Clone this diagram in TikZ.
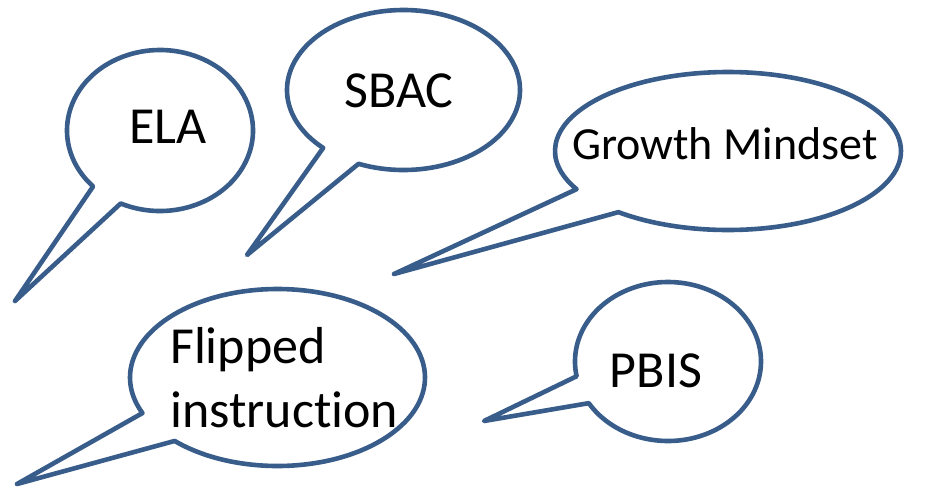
\documentclass[tikz,border=0pt]{standalone}
\usepackage{fontspec}
\setmainfont[Ligatures=NoCommon]{Carlito}
\definecolor{outline}{HTML}{385D8A}
\tikzset{
  bubble/.style={draw=outline, line width=4.6pt, fill=white, line join=round},
  label/.style={inner sep=0pt, anchor=base, font=\fontsize{52}{62}\selectfont, text=black},
}
\begin{document}
\begin{tikzpicture}[x=1pt,y=-1pt]
\useasboundingbox (0,0) rectangle (930,491);
% ELA
\coordinate (cELA) at (160,130.5);
\coordinate (tELA) at (15,301);
\draw[bubble] (cELA) ++(245:93pt and 80.5pt)
  arc[start angle=245, end angle=584, x radius=93pt, y radius=80.5pt] -- (tELA) -- cycle;
\node[label] (ela) at (168,143) {ELA};
% SBAC
\coordinate (cSBAC) at (403.5,90);
\coordinate (tSBAC) at (247,255);
\draw[bubble] (cSBAC) ++(247.3:116.5pt and 80pt)
  arc[start angle=247.3, end angle=586.4, x radius=116.5pt, y radius=80pt] -- (tSBAC) -- cycle;
\node[label] (sbac) at (399,107) {SBAC};
% Growth Mindset
\coordinate (cGM) at (728,151);
\coordinate (tGM) at (394,274);
\draw[bubble] (cGM) ++(230.7:173pt and 79pt)
  arc[start angle=230.7, end angle=568.9, x radius=173pt, y radius=79pt] -- (tGM) -- cycle;
\node[label, font=\fontsize{46}{56}\selectfont] (gm) at (725,159) {Growth Mindset};
% Flipped instruction
\coordinate (cFI) at (277.5,377.5);
\coordinate (tFI) at (17,484);
\draw[bubble] (cFI) ++(225.8:147.5pt and 88.5pt)
  arc[start angle=225.8, end angle=563.7, x radius=147.5pt, y radius=88.5pt] -- (tFI) -- cycle;
\node[label, anchor=base west] (fi1) at (170,363) {Flipped};
\node[label, anchor=base west] (fi2) at (170,427) {instruction};
% PBIS
\coordinate (cPB) at (668,361.5);
\coordinate (tPB) at (484,421);
\draw[bubble] (cPB) ++(211.6:93pt and 79.5pt)
  arc[start angle=211.6, end angle=550.7, x radius=93pt, y radius=79.5pt] -- (tPB) -- cycle;
\node[label] (pbis) at (656,387) {PBIS};
\end{tikzpicture}
\end{document}
